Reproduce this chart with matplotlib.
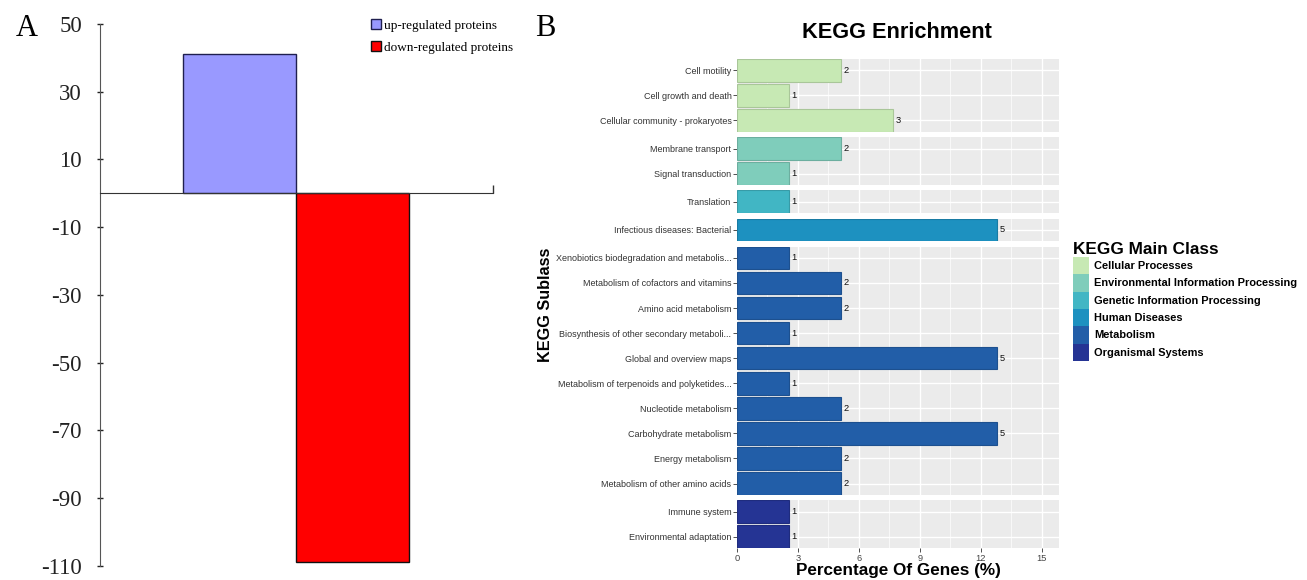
import numpy as np
import matplotlib
matplotlib.use("Agg")
from matplotlib import pyplot as plt
from matplotlib.patches import Patch
from matplotlib.ticker import MultipleLocator

# Panel A data
regulation = ["up-regulated proteins", "down-regulated proteins"]
protein_counts = [41, -109]
regulation_colors = ["#9999FF", "#FF0000"]
regulation_edges = ["#1F1F4F", "#111111"]
a_ticks = [50, 30, 10, -10, -30, -50, -70, -90, -110]

# Panel B data
main_classes = ["Cellular Processes", "Environmental Information Processing",
                "Genetic Information Processing", "Human Diseases",
                "Metabolism", "Organismal Systems"]
class_colors = ["#C7E9B4", "#7FCDBB", "#41B6C4", "#1D91C0", "#225EA8", "#253494"]
sublass = ["Cell motility", "Cell growth and death", "Cellular community - prokaryotes",
           "Membrane transport", "Signal transduction",
           "Translation",
           "Infectious diseases: Bacterial",
           "Xenobiotics biodegradation and metabolis...", "Metabolism of cofactors and vitamins",
           "Amino acid metabolism", "Biosynthesis of other secondary metaboli...",
           "Global and overview maps", "Metabolism of terpenoids and polyketides...",
           "Nucleotide metabolism", "Carbohydrate metabolism", "Energy metabolism",
           "Metabolism of other amino acids",
           "Immune system", "Environmental adaptation"]
sub_class = [0, 0, 0, 1, 1, 2, 3, 4, 4, 4, 4, 4, 4, 4, 4, 4, 4, 5, 5]
gene_counts = [2, 1, 3, 2, 1, 1, 5, 1, 2, 2, 1, 5, 1, 2, 5, 2, 2, 1, 1]
gene_pct = [5.13, 2.56, 7.69, 5.13, 2.56, 2.56, 12.82, 2.56, 5.13, 5.13, 2.56,
            12.82, 2.56, 5.13, 12.82, 5.13, 5.13, 2.56, 2.56]
pct_ticks = [0, 3, 6, 9, 12, 15]

plt.rcParams['font.family'] = ['Liberation Sans', 'DejaVu Sans']
fig = plt.figure(figsize=(13.07, 5.8), dpi=100)
W, H = 1307.0, 580.0

# ---------------- Panel A ----------------
serif = 'Liberation Serif'
axA = fig.add_axes([100 / W, 1 - 565.7 / H, 393 / W, (565.7 - 24) / H])
for i, (v, c, e) in enumerate(zip(protein_counts, regulation_colors, regulation_edges)):
    axA.bar(i, v, width=1.0, color=c, edgecolor=e, linewidth=1.0, label=regulation[i], zorder=2)
axA.set_xlim(-1.24, 2.25)
axA.set_ylim(-110, 50)
axA.spines['top'].set_visible(False)
axA.spines['right'].set_visible(False)
axA.spines['bottom'].set_position(('data', 0))
axA.spines['bottom'].set_color('#333333')
axA.spines['left'].set_color('#555555')
axA.spines['bottom'].set_zorder(3)
axA.set_yticks(a_ticks)
axA.set_yticklabels([str(t) for t in a_ticks], family=serif, fontsize=16.5)
axA.tick_params(axis='y', direction='inout', length=4, width=1, pad=11, colors='#222222')
axA.set_xticks([2.25])
axA.set_xticklabels([])
axA.tick_params(axis='x', direction='in', length=6, width=1, colors='#333333')
axA.legend(handles=[Patch(facecolor=c, edgecolor=e, label=l)
                    for l, c, e in zip(regulation, regulation_colors, regulation_edges)],
           loc='upper left', bbox_to_anchor=(366 / W, 1 - 14 / H),
           bbox_transform=fig.transFigure, frameon=False,
           prop={'family': serif, 'size': 9.5}, handlelength=0.7, handleheight=0.7,
           handletextpad=0.25, labelspacing=0.75, borderaxespad=0)
fig.text(27 / W, 1 - 28 / H, "A", family=serif, fontsize=22, ha='center', va='center')

# ---------------- Panel B ----------------
fig.text(545 / W, 1 - 28 / H, "B", family=serif, fontsize=22, ha='center', va='center')

n_per = [sub_class.count(k) for k in range(len(main_classes))]
gs = fig.add_gridspec(len(main_classes), 1, left=737 / W, right=1059 / W,
                      top=1 - 59 / H, bottom=1 - 548 / H,
                      height_ratios=[n - 0.1 for n in n_per], hspace=0.072)
xmax = 15.86
for k, cls in enumerate(main_classes):
    ax = fig.add_subplot(gs[k])
    idx = [i for i, s in enumerate(sub_class) if s == k]
    names = [sublass[i] for i in idx]
    vals = [gene_pct[i] for i in idx]
    cnts = [gene_counts[i] for i in idx]
    ypos = np.arange(len(idx))
    col = class_colors[k]
    edge = tuple(np.array(matplotlib.colors.to_rgb(col)) * 0.85)
    ax.set_facecolor('#EBEBEB')
    ax.barh(ypos, vals, height=0.9, color=col, edgecolor=edge, linewidth=0.8, zorder=3)
    for y, v, c in zip(ypos, vals, cnts):
        ax.text(v + 0.12, y, str(c), fontsize=6.7, va='center', ha='left', color='#111111', zorder=4)
    ax.set_xlim(0, xmax)
    ax.set_ylim(len(idx) - 1 + 0.45, -0.45)
    ax.set_yticks(ypos)
    ax.set_yticklabels(names, fontsize=6.45, color='#333333')
    ax.xaxis.set_major_locator(MultipleLocator(3))
    ax.xaxis.set_minor_locator(MultipleLocator(1.5))
    ax.grid(which='major', color='white', linewidth=1.0, zorder=1)
    ax.grid(which='minor', axis='x', color='white', linewidth=0.5, zorder=1)
    ax.set_axisbelow(True)
    for sp in ax.spines.values():
        sp.set_visible(False)
    ax.tick_params(axis='y', length=3, width=0.6, color='#333333', pad=1)
    ax.tick_params(axis='x', which='minor', length=0)
    if k < len(main_classes) - 1:
        ax.tick_params(axis='x', which='major', length=0, labelbottom=False)
    else:
        ax.set_xticks(pct_ticks)
        ax.set_xticklabels([str(t) for t in pct_ticks], fontsize=6.7, color='#444444')
        ax.tick_params(axis='x', which='major', length=3, width=0.6, color='#333333', pad=1)

fig.text(897 / W, 1 - 32 / H, "KEGG Enrichment", fontsize=15.7, fontweight='bold',
         ha='center', va='center')
fig.text(898 / W, 1 - 571 / H, "Percentage Of Genes (%)", fontsize=12.3, fontweight='bold',
         ha='center', va='center')
fig.text(545 / W, 1 - 305 / H, "KEGG Sublass", fontsize=11.7, fontweight='bold',
         rotation=90, ha='center', va='center')

fig.legend(handles=[Patch(facecolor=c, edgecolor='none', label=l)
                    for l, c in zip(main_classes, class_colors)],
           title="KEGG Main Class", loc='upper left',
           bbox_to_anchor=(1073 / W, 1 - 242 / H), frameon=False,
           prop={'size': 7.9, 'weight': 'bold'},
           title_fontproperties={'size': 12.4, 'weight': 'bold'}, alignment='left',
           handlelength=1.45, handleheight=2.05, handletextpad=0.45, labelspacing=0,
           borderaxespad=0, borderpad=0)

fig.savefig("out.png", dpi=100)
